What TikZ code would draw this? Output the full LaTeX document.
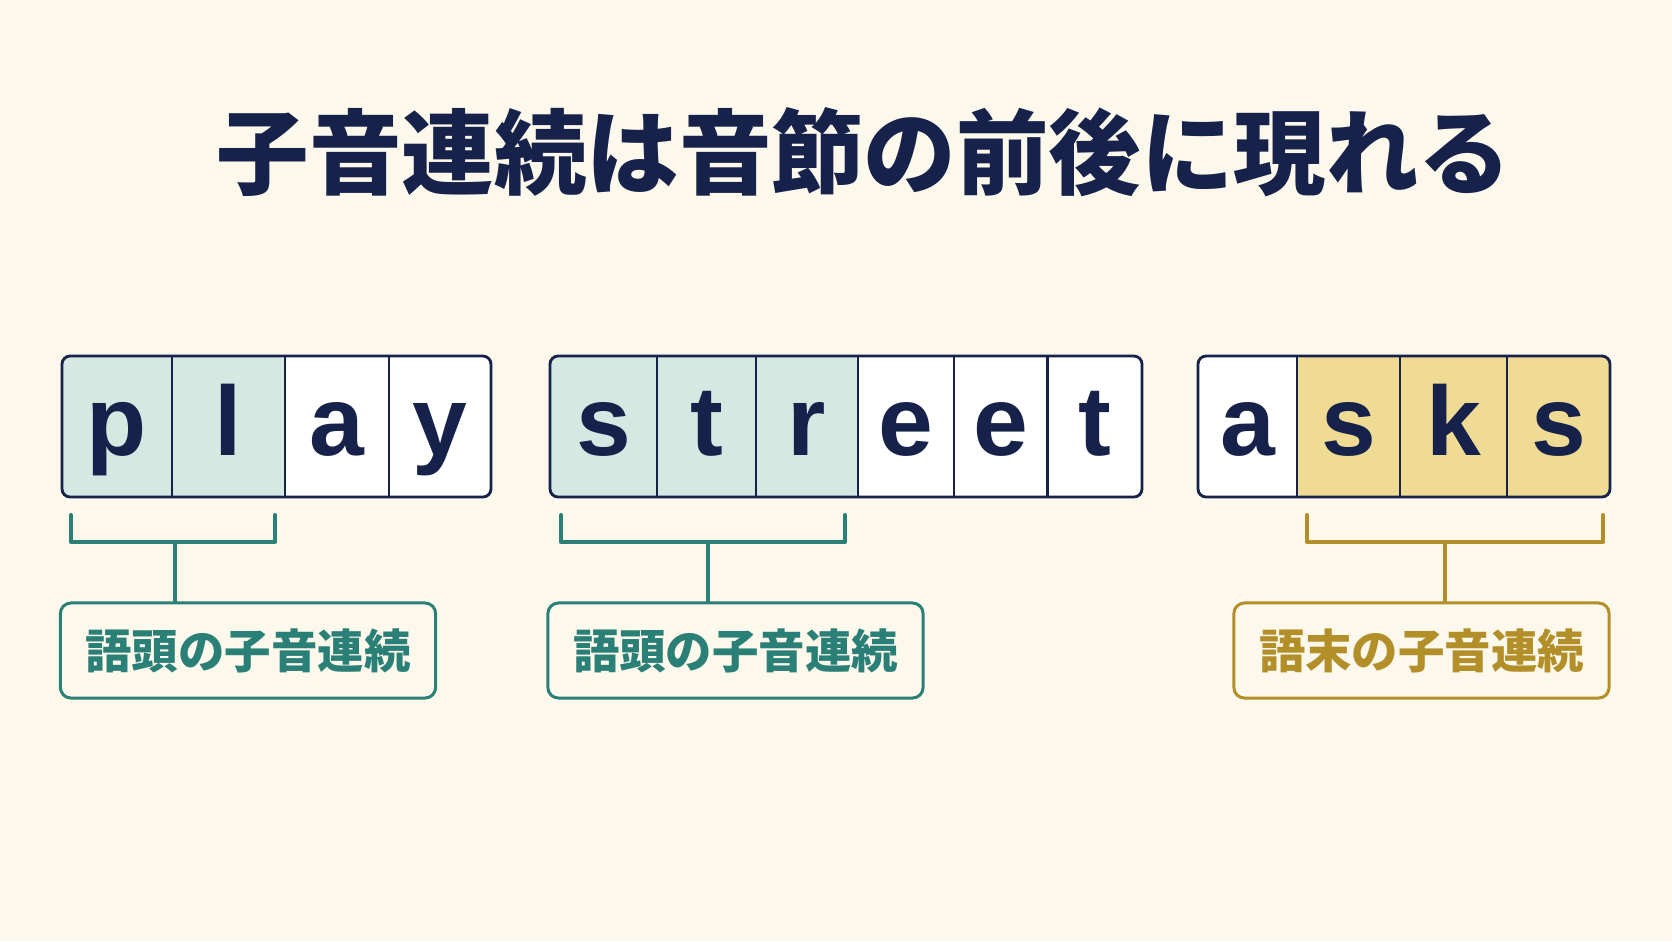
\documentclass[tikz,border=0pt]{standalone}
\usepackage{fontspec}
\setmainfont{Liberation Sans}
\newfontfamily\jpfont{Noto Sans CJK JP}
\usetikzlibrary{positioning}
\definecolor{Cream}{HTML}{FCF8EC}
\definecolor{Ink}{HTML}{16224A}
\definecolor{TealFill}{HTML}{D6E8E2}
\definecolor{TealLine}{HTML}{2A7F77}
\definecolor{GoldFill}{HTML}{F0DB95}
\definecolor{GoldLine}{HTML}{B38F2A}

\tikzset{
  letter/.style={anchor=base, text=Ink, font=\bfseries\fontsize{28}{30}\selectfont},
  wordbox/.style={draw=Ink, line width=0.8pt, rounded corners=2.3pt},
  divider/.style={draw=Ink, line width=0.8pt},
  brace/.style={line width=1.15pt, line cap=round, line join=round},
  tag/.style={draw=#1, text=#1, fill=Cream, line width=0.85pt, rounded corners=3pt,
    minimum width=3.75cm, minimum height=0.95cm, font=\jpfont\bfseries\fontsize{13.2}{15}\selectfont},
  headline/.style={text=Ink, font=\jpfont\bfseries\fontsize{26.3}{30}\selectfont}
}

\begin{document}
\begin{tikzpicture}[x=0.01cm, y=-0.01cm]
    \fill[Cream] (0,0) rectangle (1672,941);
    \useasboundingbox (0,0) rectangle (1672,941);

    \node[headline] (title) at (864,152) {子音連続は音節の前後に現れる};

    % --- PLAY (onset cluster) ---
    \fill[white, rounded corners=2.3pt] (62,356) rectangle (491,497);
    \fill[TealFill, rounded corners=2pt] (62,356) rectangle (285,497);
    \foreach \xd in {172,285,389} \draw[divider] (\xd,356) -- (\xd,497);
    \draw[wordbox] (62,356) rectangle (491,497);
    \foreach \name/\ltr/\xc in {pA/p/117, pB/l/228, pC/a/337, pD/y/440}
        \node[letter] (\name) at (\xc,455) {\ltr};

    \draw[brace, TealLine] (71,515) -- (71,542) -- (275,542) -- (275,515);
    \coordinate (braceA) at (175,542);
    \node[tag=TealLine] (tagA) at (248,650.5) {語頭の子音連続};
    \draw[brace, TealLine] (braceA) -- (braceA |- tagA.north);

    % --- STREET (onset cluster) ---
    \fill[white, rounded corners=2.3pt] (550,356) rectangle (1142,497);
    \fill[TealFill, rounded corners=2pt] (550,356) rectangle (858,497);
    \foreach \xd in {657,756,858,954,1047.5} \draw[divider] (\xd,356) -- (\xd,497);
    \draw[wordbox] (550,356) rectangle (1142,497);
    \foreach \name/\ltr/\xc in {sA/s/603.5, sB/t/706.5, sC/r/807, sD/e/906, sE/e/1000.75, sF/t/1094.75}
        \node[letter] (\name) at (\xc,455) {\ltr};

    \draw[brace, TealLine] (561,515) -- (561,542) -- (845,542) -- (845,515);
    \coordinate (braceB) at (708,542);
    \node[tag=TealLine] (tagB) at (735.5,650.5) {語頭の子音連続};
    \draw[brace, TealLine] (braceB) -- (braceB |- tagB.north);

    % --- ASKS (coda cluster) ---
    \fill[white, rounded corners=2.3pt] (1198,356) rectangle (1610,497);
    \fill[GoldFill, rounded corners=2pt] (1297,356) rectangle (1610,497);
    \foreach \xd in {1297,1400,1507} \draw[divider] (\xd,356) -- (\xd,497);
    \draw[wordbox] (1198,356) rectangle (1610,497);
    \foreach \name/\ltr/\xc in {aA/a/1247.5, aB/s/1348.5, aC/k/1453.5, aD/s/1558.5}
        \node[letter] (\name) at (\xc,455) {\ltr};

    \draw[brace, GoldLine] (1307,515) -- (1307,542) -- (1603,542) -- (1603,515);
    \coordinate (braceC) at (1445,542);
    \node[tag=GoldLine] (tagC) at (1421.5,650.5) {語末の子音連続};
    \draw[brace, GoldLine] (braceC) -- (braceC |- tagC.north);
\end{tikzpicture}
\end{document}
